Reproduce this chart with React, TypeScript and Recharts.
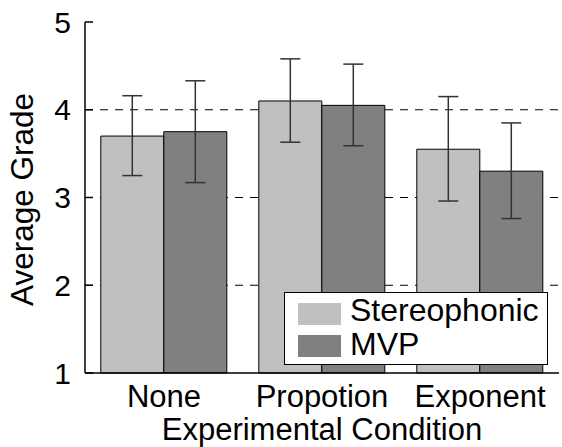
import { BarChart, Bar, XAxis, YAxis, CartesianGrid, ErrorBar, Legend } from 'recharts';

const categories = ['None', 'Propotion', 'Exponent'];
const seriesNames = ['Stereophonic', 'MVP'];
const stereoMean = [3.7, 4.1, 3.55];
const stereoLow = [3.25, 3.63, 2.96];
const stereoHigh = [4.16, 4.58, 4.15];
const mvpMean = [3.75, 4.05, 3.3];
const mvpLow = [3.17, 3.59, 2.76];
const mvpHigh = [4.33, 4.52, 3.85];
const yTicks = [1, 2, 3, 4, 5];
const gridValues = [2, 3, 4];

const data = categories.map((c, i) => ({
	cond: c,
	stereo: stereoMean[i],
	stereoErr: [stereoMean[i] - stereoLow[i], stereoHigh[i] - stereoMean[i]],
	mvp: mvpMean[i],
	mvpErr: [mvpMean[i] - mvpLow[i], mvpHigh[i] - mvpMean[i]],
}));

const font = '"Liberation Sans", Arial, sans-serif';
const axisStroke = { stroke: '#000', strokeWidth: 1.5 };

function LegendBox(props: any) {
	const items = [...(props.payload || [])].sort(
		(a: any, b: any) => seriesNames.indexOf(a.value) - seriesNames.indexOf(b.value));
	return (
		<div style={{
			position: 'relative', boxSizing: 'border-box', width: 264, height: 73,
			border: '1.5px solid #000', background: '#fff', fontFamily: font, fontSize: 32,
		}}>
			{items.map((it: any, i: number) => (
				<div key={it.value}>
					<span style={{ position: 'absolute', left: 12.5, top: 9.5 + i * 32, width: 43, height: 22, background: it.color }} />
					<span style={{ position: 'absolute', left: 65, top: 1 + i * 33.5, lineHeight: '32px', whiteSpace: 'nowrap', color: '#000' }}>{it.value}</span>
				</div>
			))}
		</div>
	);
}

export default function App() {
	return (
		<div style={{ position: 'fixed', left: 0, top: 0, background: '#fff' }}>
			<BarChart width={562} height={447} data={data}
				margin={{ top: 22, right: 3, left: 0, bottom: 0 }}
				barCategoryGap="10%" barGap={0}
				style={{ fontFamily: font }}>
				<CartesianGrid vertical={false} horizontalValues={gridValues}
					stroke="#000" strokeDasharray="8 7" />
				<XAxis dataKey="cond" height={74} tickLine={false} axisLine={axisStroke}
					tickSize={0} tickMargin={12}
					tick={{ fill: '#000', fontSize: 31 }}
					label={{ value: 'Experimental Condition', position: 'insideBottom', offset: 7, fill: '#000', fontSize: 31 }} />
				<XAxis xAxisId="top" dataKey="cond" orientation="top" height={0}
					axisLine={axisStroke} tickLine={{ stroke: '#000', strokeWidth: 1.5 }}
					tickSize={-8} tick={false} />
				<YAxis type="number" domain={[1, 5]} ticks={yTicks} width={85} interval={0}
					axisLine={axisStroke} tickLine={{ stroke: '#000', strokeWidth: 1.5 }}
					tickSize={-8} tickMargin={22}
					tick={{ fill: '#000', fontSize: 30 }}
					label={{ value: 'Average Grade', angle: -90, position: 'insideLeft', offset: 22, dy: 2, fill: '#000', fontSize: 31.5, style: { textAnchor: 'middle' } }} />
				<YAxis yAxisId="right" orientation="right" type="number" domain={[1, 5]} ticks={yTicks}
					width={0} interval={0} axisLine={axisStroke}
					tickLine={{ stroke: '#000', strokeWidth: 1.5 }} tickSize={-8} tick={false} />
				<Bar dataKey="stereo" name="Stereophonic" fill="#c0c0c0" stroke="#000" strokeWidth={1}
					isAnimationActive={false}>
					<ErrorBar dataKey="stereoErr" width={10} stroke="#333" strokeWidth={1.5} />
				</Bar>
				<Bar dataKey="mvp" name="MVP" fill="#808080" stroke="#000" strokeWidth={1}
					isAnimationActive={false}>
					<ErrorBar dataKey="mvpErr" width={10} stroke="#333" strokeWidth={1.5} />
				</Bar>
				<Legend layout="vertical" align="center" verticalAlign="middle"
					wrapperStyle={{ left: 284, top: 292, width: 264, height: 73 }}
					content={<LegendBox />} />
			</BarChart>
		</div>
	);
}
